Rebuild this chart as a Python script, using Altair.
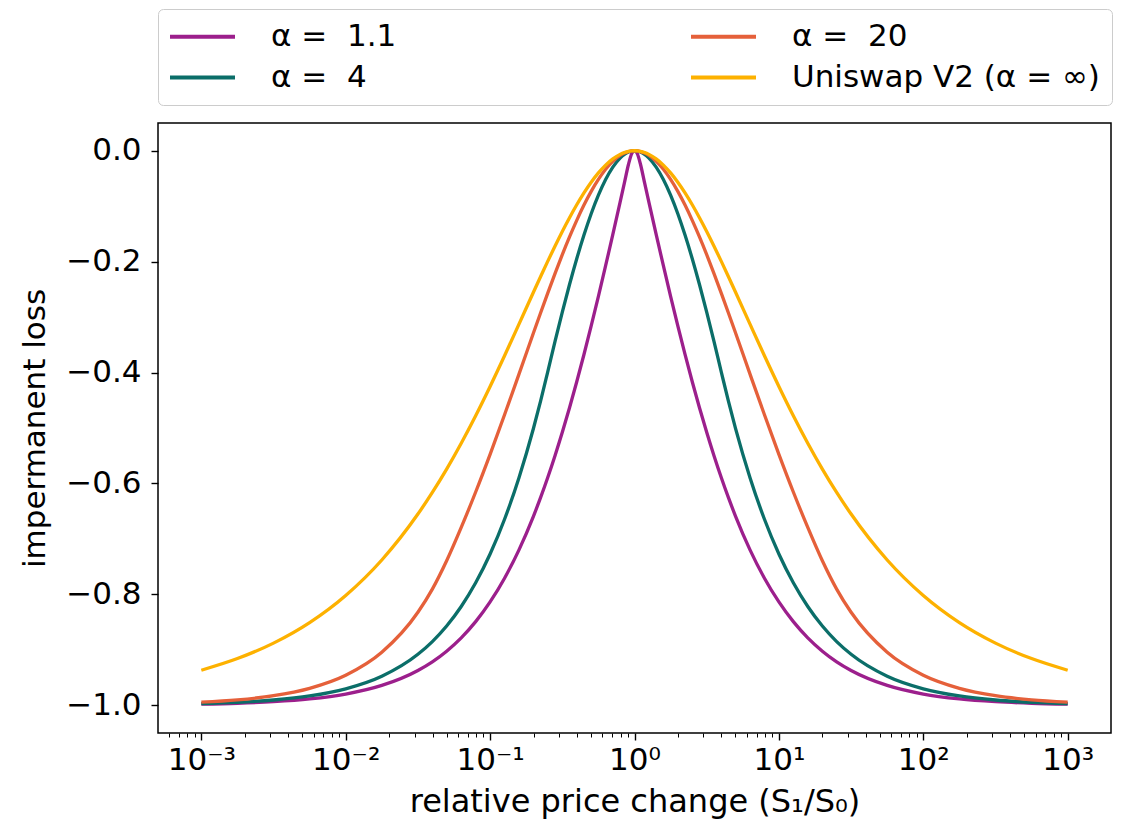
import altair as alt
import pandas as pd

# relative price change S1/S0 (log-spaced sample points read along the x axis)
x_values = [0.001, 0.0017783, 0.0031623, 0.0056234, 0.01, 0.017783, 0.031623, 0.039811, 0.05, 0.063096,
            0.079433, 0.1, 0.12589, 0.15849, 0.19953, 0.22387, 0.25, 0.28184, 0.31623, 0.35481,
            0.39811, 0.44668, 0.50119, 0.56234, 0.63096, 0.70795, 0.79433, 0.85114, 0.90909, 0.95499,
            1.0,
            1.0471, 1.1, 1.1749, 1.2589, 1.4125, 1.5849, 1.7783, 1.9953, 2.2387, 2.5119,
            2.8184, 3.1623, 3.5481, 4.0, 4.4668, 5.0119, 6.3096, 7.9433, 10.0, 12.589,
            15.849, 20.0, 25.119, 31.623, 56.234, 100.0, 177.83, 316.23, 562.34, 1000.0]

alpha_1_1 = [-0.9980, -0.9964, -0.9935, -0.9885, -0.9797, -0.9642, -0.9372, -0.9216, -0.9024, -0.8784,
             -0.8492, -0.8137, -0.7709, -0.7197, -0.6592, -0.6252, -0.5902, -0.5495, -0.5078, -0.4634,
             -0.4166, -0.3674, -0.3160, -0.2626, -0.2074, -0.1508, -0.0930, -0.0580, -0.0244, -0.0057,
             0.0,
             -0.0057, -0.0244, -0.0580, -0.0930, -0.1508, -0.2074, -0.2626, -0.3160, -0.3674, -0.4166,
             -0.4634, -0.5078, -0.5495, -0.5902, -0.6252, -0.6592, -0.7197, -0.7709, -0.8137, -0.8492,
             -0.8784, -0.9024, -0.9216, -0.9372, -0.9642, -0.9797, -0.9885, -0.9935, -0.9964, -0.9980]

alpha_4 = [-0.9970, -0.9947, -0.9905, -0.9832, -0.9703, -0.9476, -0.9080, -0.8851, -0.8571, -0.8219,
           -0.7792, -0.7273, -0.6646, -0.5896, -0.5010, -0.4512, -0.4000, -0.3434, -0.2911, -0.2413,
           -0.1948, -0.1521, -0.1136, -0.0801, -0.0519, -0.0295, -0.0132, -0.0065, -0.0023, -0.0005,
           0.0,
           -0.0005, -0.0023, -0.0065, -0.0132, -0.0295, -0.0519, -0.0801, -0.1136, -0.1521, -0.1948,
           -0.2413, -0.2911, -0.3434, -0.4000, -0.4512, -0.5010, -0.5896, -0.6646, -0.7273, -0.7792,
           -0.8219, -0.8571, -0.8851, -0.9080, -0.9476, -0.9703, -0.9832, -0.9905, -0.9947, -0.9970]

alpha_20 = [-0.9945, -0.9903, -0.9828, -0.9694, -0.9458, -0.9044, -0.8323, -0.7905, -0.7394, -0.6793,
            -0.6154, -0.5475, -0.4762, -0.4028, -0.3287, -0.2921, -0.2576, -0.2211, -0.1874, -0.1554,
            -0.1255, -0.0979, -0.0732, -0.0516, -0.0334, -0.0190, -0.0085, -0.0042, -0.0015, -0.0003,
            0.0,
            -0.0003, -0.0015, -0.0042, -0.0085, -0.0190, -0.0334, -0.0516, -0.0732, -0.0979, -0.1255,
            -0.1554, -0.1874, -0.2211, -0.2576, -0.2921, -0.3287, -0.4028, -0.4762, -0.5475, -0.6154,
            -0.6793, -0.7394, -0.7905, -0.8323, -0.9044, -0.9458, -0.9694, -0.9828, -0.9903, -0.9945]

uniswap_v2 = [-0.9368, -0.9158, -0.8879, -0.8509, -0.8020, -0.7380, -0.6552, -0.6162, -0.5741, -0.5274,
              -0.4778, -0.4250, -0.3697, -0.3127, -0.2552, -0.2268, -0.2000, -0.1717, -0.1455, -0.1207,
              -0.0974, -0.0760, -0.0568, -0.0400, -0.0259, -0.0147, -0.0066, -0.0032, -0.0011, -0.0003,
              0.0,
              -0.0003, -0.0011, -0.0032, -0.0066, -0.0147, -0.0259, -0.0400, -0.0568, -0.0760, -0.0974,
              -0.1207, -0.1455, -0.1717, -0.2000, -0.2268, -0.2552, -0.3127, -0.3697, -0.4250, -0.4778,
              -0.5274, -0.5741, -0.6162, -0.6552, -0.7380, -0.8020, -0.8509, -0.8879, -0.9158, -0.9368]

NB = "\u00a0"
series_names = ["α =" + NB + NB + "1.1", "α =" + NB + NB + "4", NB + "α =" + NB + NB + "20", "Uniswap V2 (α = ∞)"]
series_values = [alpha_1_1, alpha_4, alpha_20, uniswap_v2]
series_colors = ["#9c1f8c", "#0b6e69", "#e5603a", "#fdb100"]

x_major = [0.001, 0.01, 0.1, 1, 10, 100, 1000]
x_minor = [m * d for d in [0.0001, 0.001, 0.01, 0.1, 1, 10, 100] for m in range(2, 10)]
x_minor = [v for v in x_minor if 0.000502 < v < 1995]
y_ticks = [-1.0, -0.8, -0.6, -0.4, -0.2, 0.0]

rows = []
for k, (name, vals) in enumerate(zip(series_names, series_values)):
    for i, (xv, yv) in enumerate(zip(x_values, vals)):
        rows.append({"x": xv, "y": yv, "series": name, "i": i})
df = pd.DataFrame(rows)

FONT = "DejaVu Sans"
FS = 31

xscale = alt.Scale(type="log", domain=[0.000501187, 1995.26], nice=False)
yscale = alt.Scale(domain=[-1.05, 0.05], nice=False, zero=False)

lines = alt.Chart(df).mark_line(strokeWidth=3.3, clip=True, interpolate="monotone").encode(
    x=alt.X("x:Q", scale=xscale,
            axis=alt.Axis(values=x_major, orient="bottom", domain=False, grid=False,
                          tickSize=7, tickWidth=1.4, tickColor="black",
                          labelExpr="'10' + ['⁻³','⁻²','⁻¹','⁰','¹','²','³'][round(log(datum.value)/LN10)+3]",
                          labelFont=FONT, labelFontSize=FS, labelColor="black", labelPadding=5,
                          title="relative price change (S₁/S₀)", titleFont=FONT, titleFontSize=32,
                          titleFontWeight="normal", titleColor="black", titlePadding=11)),
    y=alt.Y("y:Q", scale=yscale,
            axis=alt.Axis(values=y_ticks, format=".1f", domain=False, grid=False,
                          tickSize=7, tickWidth=1.4, tickColor="black",
                          labelFont=FONT, labelFontSize=FS, labelColor="black", labelPadding=10,
                          title="impermanent loss", titleFont=FONT, titleFontSize=FS,
                          titleFontWeight="normal", titleColor="black", titlePadding=14)),
    color=alt.Color("series:N", scale=alt.Scale(domain=series_names, range=series_colors),
                    legend=alt.Legend(title=None, orient="none", legendX=0, legendY=-114,
                                      columns=2, symbolType="M-6.5,0H6.5", symbolSize=100,
                                      symbolOffset=17,
                                      symbolStrokeWidth=4, labelFont=FONT, labelFontSize=FS,
                                      labelColor="black", labelOffset=53, labelLimit=600,
                                      padding=12, strokeColor="#cccccc", cornerRadius=5,
                                      fillColor="white", columnPadding=286, rowPadding=9)),
    order=alt.Order("i:Q"),
)

minor = alt.Chart(df).mark_point(opacity=0).encode(
    x=alt.X("x:Q", scale=xscale,
            axis=alt.Axis(values=x_minor, orient="bottom", domain=False, grid=False,
                          labels=False, title=None, tickSize=4, tickWidth=1.0, tickColor="black")),
)

chart = alt.layer(lines, minor).resolve_axis(x="independent").properties(
    width=953, height=610,
    autosize=alt.AutoSizeParams(type="none"),
    padding={"left": 150, "top": 115, "right": 8, "bottom": 88},
).configure(font=FONT).configure_view(stroke="black", strokeWidth=1.5)

chart.save("out.html", embed_options={"renderer": "svg", "actions": False})
